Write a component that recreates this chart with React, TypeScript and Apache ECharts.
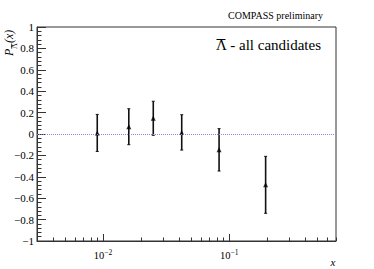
import React, { useEffect, useRef } from "react";
import * as echarts from "echarts";

const xValues = [0.009, 0.016, 0.025, 0.042, 0.083, 0.194];
const pValues = [0.01, 0.068, 0.147, 0.015, -0.148, -0.475];
const pErrors = [0.173, 0.168, 0.159, 0.165, 0.198, 0.266];

const xMin = 0.003;
const xMax = 0.7;
const xMajorTicks = [0.01, 0.1];
const xMinorTicks = [
  0.003, 0.004, 0.005, 0.006, 0.007, 0.008, 0.009,
  0.02, 0.03, 0.04, 0.05, 0.06, 0.07, 0.08, 0.09,
  0.2, 0.3, 0.4, 0.5, 0.6, 0.7,
];

const FONT = "Liberation Serif";
const lg = (v: number) => Math.log10(v);

export default function App() {
  const ref = useRef<HTMLDivElement>(null);
  useEffect(() => {
    if (!ref.current) return;
    const chart = echarts.init(ref.current, null, { renderer: "svg" });
    const pts = xValues.map((x, i) => [lg(x), pValues[i]]);
    const errs = xValues.map((x, i) => [lg(x), pValues[i], pErrors[i]]);
    const fmtY = (v: number) => {
      const r = Math.round(v * 10) / 10;
      const s = r === 0 ? "0" : String(r);
      return s.replace("-", "\u2212");
    };
    chart.setOption({
      animation: false,
      grid: { left: 37, top: 27, width: 299, height: 214, show: true, borderColor: "#333", borderWidth: 1 },
      xAxis: [
        {
          type: "value",
          min: lg(xMin),
          max: lg(xMax),
          axisLine: { show: true, onZero: false, lineStyle: { color: "#333", width: 1 } },
          axisTick: { show: true, inside: true, length: 3.5, customValues: xMinorTicks.map(lg), lineStyle: { color: "#333" } },
          axisLabel: { show: false },
          splitLine: { show: false },
        },
        {
          type: "value",
          position: "bottom",
          offset: 0,
          min: lg(xMin),
          max: lg(xMax),
          axisLine: { show: false, onZero: false },
          axisTick: { show: true, inside: true, length: 7, customValues: xMajorTicks.map(lg), lineStyle: { color: "#333" } },
          axisLabel: {
            show: true,
            customValues: xMajorTicks.map(lg),
            margin: 7,
            formatter: (v: number) => `{b|10}{s|${String(Math.round(v)).replace("-", "\u2212")}}`,
            rich: {
              b: { fontFamily: FONT, fontSize: 10.5, color: "#000" },
              s: { fontFamily: FONT, fontSize: 7.5, color: "#000", padding: [0, 0, 6, 0] },
            },
          },
          splitLine: { show: false },
        },
      ],
      yAxis: {
        type: "value",
        min: -1,
        max: 1,
        interval: 0.2,
        axisLine: { show: true, onZero: false, lineStyle: { color: "#333", width: 1 } },
        axisTick: { show: true, inside: true, length: 9, lineStyle: { color: "#333" } },
        minorTick: { show: true, splitNumber: 5, length: 4.5, lineStyle: { color: "#333" } },
        axisLabel: { margin: 3, fontFamily: FONT, fontSize: 11, color: "#000", formatter: fmtY },
        splitLine: { show: false },
      },
      graphic: [
        {
          type: "text",
          x: 323,
          y: 20,
          style: { text: "COMPASS preliminary", fontFamily: FONT, fontSize: 10, fill: "#000", align: "right", verticalAlign: "bottom" },
        },
        {
          type: "text",
          x: 216,
          y: 52,
          style: { text: "\u039B - all candidates", fontFamily: FONT, fontSize: 15, fill: "#000", align: "left", verticalAlign: "bottom" },
        },
        { type: "line", shape: { x1: 216.5, y1: 39.5, x2: 225.5, y2: 39.5 }, style: { stroke: "#000", lineWidth: 1 } },
        {
          type: "group",
          x: 15,
          y: 56,
          rotation: Math.PI / 2,
          children: [
            { type: "text", x: 0, y: 0, style: { text: "P", fontFamily: FONT, fontStyle: "italic", fontSize: 12, fill: "#000", align: "left", verticalAlign: "bottom" } },
            { type: "text", x: 7, y: 3.5, style: { text: "\u039B", fontFamily: FONT, fontSize: 8, fill: "#000", align: "left", verticalAlign: "bottom" } },
            { type: "line", shape: { x1: 7.3, y1: -3.3, x2: 12.5, y2: -3.3 }, style: { stroke: "#000", lineWidth: 0.8 } },
            { type: "text", x: 13, y: 0, style: { text: "(x)", fontFamily: FONT, fontStyle: "italic", fontSize: 12, fill: "#000", align: "left", verticalAlign: "bottom" } },
          ],
        },
        {
          type: "text",
          x: 333,
          y: 262,
          style: { text: "x", fontFamily: FONT, fontStyle: "italic", fontSize: 11, fill: "#000", align: "center", verticalAlign: "middle" },
        },
      ],
      series: [
        {
          type: "custom",
          xAxisIndex: 0,
          data: errs,
          renderItem: (params: any, api: any) => {
            const x = api.value(0);
            const y = api.value(1);
            const e = api.value(2);
            const top = api.coord([x, y + e]);
            const bot = api.coord([x, y - e]);
            const c = 1.5;
            return {
              type: "group",
              children: [
                { type: "line", shape: { x1: top[0], y1: top[1], x2: bot[0], y2: bot[1] }, style: { stroke: "#111", lineWidth: 1.6 } },
                { type: "line", shape: { x1: top[0] - c, y1: top[1], x2: top[0] + c, y2: top[1] }, style: { stroke: "#111", lineWidth: 1 } },
                { type: "line", shape: { x1: bot[0] - c, y1: bot[1], x2: bot[0] + c, y2: bot[1] }, style: { stroke: "#111", lineWidth: 1 } },
              ],
            };
          },
          markLine: {
            silent: true,
            symbol: "none",
            label: { show: false },
            lineStyle: { color: "#8a8ad0", type: "dotted", width: 1 },
            data: [{ yAxis: 0 }],
          },
          z: 2,
        },
        {
          type: "scatter",
          xAxisIndex: 0,
          data: pts,
          symbol: "triangle",
          symbolSize: 5,
          itemStyle: { color: "#000" },
          z: 3,
        },
      ],
    });
    return () => chart.dispose();
  }, []);
  return <div ref={ref} style={{ position: "absolute", left: 0, top: 0, width: 374, height: 269 }} />;
}
